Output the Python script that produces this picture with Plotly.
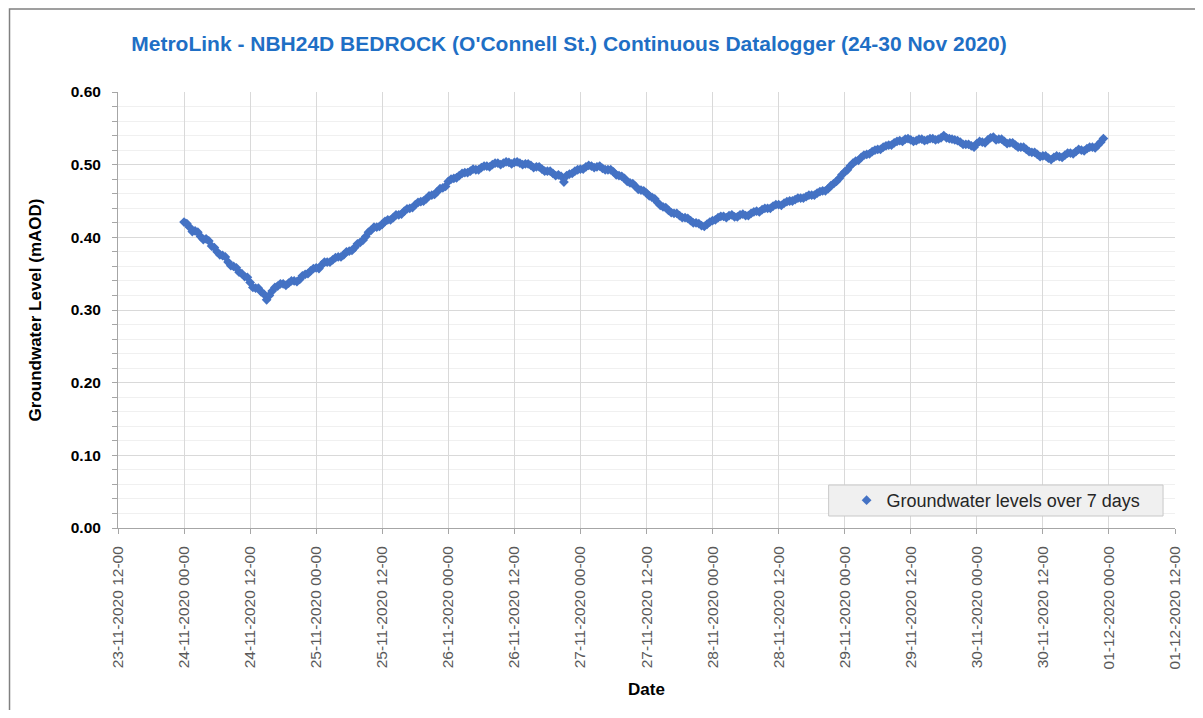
import pandas as pd
import plotly.graph_objects as go

# Hourly readings (on the hour), starting 24-11-2020 00:00
hourly_start = "2020-11-24 00:00"
levels_hourly = [
    0.421, 0.414, 0.409, 0.401, 0.398, 0.388, 0.380, 0.375, 0.366, 0.360,
    0.352, 0.346, 0.338, 0.330, 0.325, 0.314, 0.326, 0.333, 0.336, 0.337,
    0.340, 0.342, 0.349, 0.354, 0.358, 0.362, 0.366, 0.369, 0.373, 0.376,
    0.381, 0.386, 0.393, 0.401, 0.410, 0.414, 0.418, 0.424, 0.427, 0.431,
    0.436, 0.440, 0.445, 0.449, 0.453, 0.458, 0.463, 0.468, 0.477, 0.481,
    0.485, 0.489, 0.491, 0.493, 0.496, 0.498, 0.500, 0.502, 0.502, 0.503,
    0.503, 0.502, 0.501, 0.499, 0.497, 0.494, 0.491, 0.488, 0.486, 0.476,
    0.487, 0.491, 0.494, 0.497, 0.498, 0.497, 0.495, 0.493, 0.490, 0.485,
    0.481, 0.475, 0.470, 0.465, 0.461, 0.455, 0.448, 0.442, 0.437, 0.433,
    0.430, 0.427, 0.423, 0.420, 0.416, 0.418, 0.423, 0.427, 0.429, 0.430,
    0.428, 0.431, 0.430, 0.433, 0.436, 0.438, 0.440, 0.443, 0.445, 0.447,
    0.450, 0.452, 0.454, 0.456, 0.458, 0.461, 0.464, 0.467, 0.474, 0.481,
    0.490, 0.498, 0.505, 0.510, 0.514, 0.518, 0.521, 0.524, 0.527, 0.530,
    0.533, 0.535, 0.534, 0.533, 0.535, 0.534, 0.536, 0.535, 0.540, 0.536,
    0.534, 0.531, 0.528, 0.526, 0.529, 0.531, 0.534, 0.538, 0.535, 0.532,
    0.530, 0.527, 0.524, 0.521, 0.517, 0.514, 0.512, 0.509, 0.510, 0.511,
    0.513, 0.516, 0.518, 0.520, 0.522, 0.524, 0.527, 0.536,
]

# Half-hour readings (hh:30), starting 24-11-2020 00:30
halfhour_start = "2020-11-24 00:30"
levels_halfhour = [
    0.419, 0.408, 0.407, 0.397, 0.395, 0.386, 0.376, 0.373, 0.361, 0.358,
    0.350, 0.345, 0.331, 0.330, 0.322, 0.320, 0.331, 0.336, 0.334, 0.340,
    0.339, 0.347, 0.350, 0.357, 0.357, 0.366, 0.366, 0.372, 0.373, 0.380,
    0.382, 0.391, 0.396, 0.407, 0.414, 0.415, 0.422, 0.424, 0.431, 0.432,
    0.439, 0.441, 0.448, 0.450, 0.457, 0.459, 0.467, 0.470, 0.480, 0.482,
    0.488, 0.489, 0.494, 0.493, 0.498, 0.497, 0.502, 0.500, 0.504, 0.501,
    0.504, 0.500, 0.501, 0.496, 0.497, 0.491, 0.491, 0.485, 0.484, 0.485,
    0.488, 0.493, 0.494, 0.499, 0.496, 0.498, 0.493, 0.493, 0.486, 0.484,
    0.477, 0.474, 0.466, 0.464, 0.457, 0.453, 0.444, 0.441, 0.434, 0.433,
    0.427, 0.426, 0.420, 0.419, 0.415, 0.421, 0.424, 0.429, 0.427, 0.431,
    0.428, 0.432, 0.430, 0.435, 0.435, 0.440, 0.440, 0.445, 0.444, 0.449,
    0.450, 0.454, 0.454, 0.458, 0.458, 0.463, 0.464, 0.471, 0.477, 0.486,
    0.493, 0.502, 0.506, 0.513, 0.515, 0.520, 0.521, 0.526, 0.527, 0.532,
    0.532, 0.536, 0.532, 0.535, 0.533, 0.536, 0.534, 0.537, 0.537, 0.535,
    0.533, 0.528, 0.528, 0.524, 0.532, 0.530, 0.537, 0.534, 0.535, 0.529,
    0.530, 0.524, 0.524, 0.518, 0.517, 0.511, 0.512, 0.507, 0.512, 0.510,
    0.516, 0.515, 0.521, 0.519, 0.524, 0.523, 0.531,
]

times = list(pd.date_range(hourly_start, periods=len(levels_hourly), freq="h")) + \
        list(pd.date_range(halfhour_start, periods=len(levels_halfhour), freq="h"))
levels = levels_hourly + levels_halfhour

title_text = "MetroLink - NBH24D BEDROCK (O'Connell St.) Continuous Datalogger (24-30 Nov 2020)"
series_name = "Groundwater levels over 7 days"
y_title = "Groundwater Level (mAOD)"
x_title = "Date"

fig = go.Figure()
fig.add_trace(go.Scatter(
    x=times, y=levels, mode="markers", name=series_name,
    marker=dict(symbol="diamond", size=7.5, color="#4472C4"),
))

fig.update_layout(
    width=1187, height=702,
    margin=dict(l=110, r=15, t=84, b=182),
    paper_bgcolor="white", plot_bgcolor="white",
    font=dict(family="Liberation Sans, Arial, sans-serif"),
    title=dict(text=title_text, x=0.4726, xanchor="center", y=0.9487, yanchor="middle",
               font=dict(size=21, color="#1F6FC5", family="Liberation Sans, Arial, sans-serif", weight="bold")),
    showlegend=True,
    legend=dict(x=0.6893, xanchor="left", y=0.0631, yanchor="middle",
                bgcolor="rgba(0,0,0,0)", borderwidth=0,
                font=dict(size=18, color="#262626"), itemwidth=30),
    shapes=[
        dict(type="rect", xref="paper", yref="paper",
             x0=(9 - 118) / 1062, x1=1.03, y0=-0.45, y1=(528 - 9) / 436,
             line=dict(color="#808080", width=1.5), fillcolor="rgba(0,0,0,0)", layer="above"),
        dict(type="rect", xref="paper", yref="paper",
             x0=(832 - 118) / 1062, x1=(1168 - 118) / 1062,
             y0=(528 - 516) / 436, y1=(528 - 485) / 436,
             line=dict(color="#C8C8C8", width=1), fillcolor="#F0F0F0", layer="above"),
    ],
)

fig.update_xaxes(
    range=["2020-11-23 12:00", "2020-12-01 12:00"],
    tick0="2020-11-23 12:00", dtick=43200000,
    tickformat="%d-%m-%Y %H-%M", tickangle=-90,
    tickfont=dict(size=15.5, color="#595959"),
    ticklabelstandoff=6,
    showgrid=True, gridcolor="#D9D9D9", gridwidth=1,
    showline=True, linecolor="#A6A6A6", linewidth=1,
    ticks="outside", ticklen=5, tickcolor="#A6A6A6",
    title=dict(text=x_title, font=dict(size=17, color="#000000", weight="bold"), standoff=14),
    zeroline=False,
)
fig.update_yaxes(
    range=[0, 0.6], dtick=0.1, tickformat=".2f",
    tickfont=dict(size=15.5, color="#000000", weight="bold"),
    ticklabelstandoff=8,
    showgrid=True, gridcolor="#D9D9D9", gridwidth=1,
    minor=dict(dtick=0.02, showgrid=True, gridcolor="#F0F0F0", ticks="outside",
               ticklen=5, tickcolor="#A6A6A6"),
    showline=True, linecolor="#A6A6A6", linewidth=1,
    ticks="outside", ticklen=5, tickcolor="#A6A6A6",
    title=dict(text=y_title, font=dict(size=17, color="#000000", weight="bold"), standoff=24),
    zeroline=False,
)

fig.write_html("out.html")
